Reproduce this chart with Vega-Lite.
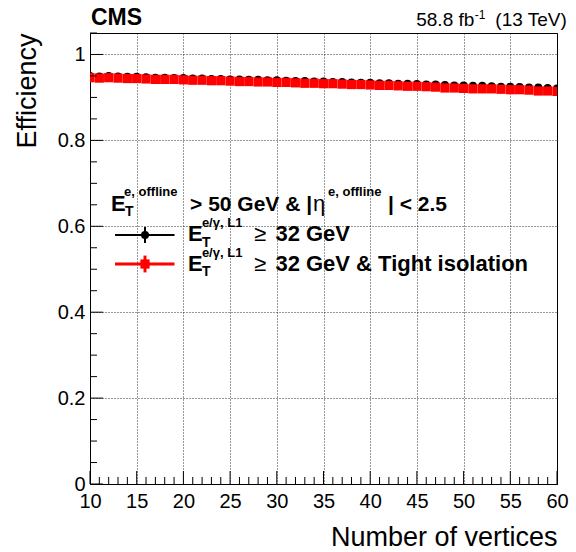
{
  "$schema": "https://vega.github.io/schema/vega-lite/v6.json",
  "width": 467,
  "height": 451,
  "autosize": "none",
  "padding": {"left": 90, "top": 33, "right": 19, "bottom": 68},
  "background": "white",
  "config": {
    "view": {"stroke": "black", "strokeWidth": 1},
    "font": "Liberation Sans",
    "axis": {
      "labelFont": "Liberation Sans",
      "labelFontSize": 20,
      "labelColor": "black",
      "titleFont": "Liberation Sans",
      "titleFontSize": 27,
      "titleFontWeight": "normal",
      "titleColor": "black",
      "domainColor": "black",
      "domainWidth": 1,
      "ticks": false,
      "gridColor": "black",
      "gridDash": [1, 2],
      "gridWidth": 1,
      "gridOpacity": 0.8
    }
  },
  "datasets": {
    "eff": [
      {"nv":10,"sel":"L1","eff":0.950},{"nv":11,"sel":"L1","eff":0.949},{"nv":12,"sel":"L1","eff":0.950},{"nv":13,"sel":"L1","eff":0.949},{"nv":14,"sel":"L1","eff":0.948},
      {"nv":15,"sel":"L1","eff":0.948},{"nv":16,"sel":"L1","eff":0.947},{"nv":17,"sel":"L1","eff":0.946},{"nv":18,"sel":"L1","eff":0.946},{"nv":19,"sel":"L1","eff":0.945},
      {"nv":20,"sel":"L1","eff":0.945},{"nv":21,"sel":"L1","eff":0.944},{"nv":22,"sel":"L1","eff":0.944},{"nv":23,"sel":"L1","eff":0.943},{"nv":24,"sel":"L1","eff":0.943},
      {"nv":25,"sel":"L1","eff":0.942},{"nv":26,"sel":"L1","eff":0.942},{"nv":27,"sel":"L1","eff":0.941},{"nv":28,"sel":"L1","eff":0.941},{"nv":29,"sel":"L1","eff":0.940},
      {"nv":30,"sel":"L1","eff":0.940},{"nv":31,"sel":"L1","eff":0.939},{"nv":32,"sel":"L1","eff":0.938},{"nv":33,"sel":"L1","eff":0.938},{"nv":34,"sel":"L1","eff":0.937},
      {"nv":35,"sel":"L1","eff":0.937},{"nv":36,"sel":"L1","eff":0.936},{"nv":37,"sel":"L1","eff":0.936},{"nv":38,"sel":"L1","eff":0.935},{"nv":39,"sel":"L1","eff":0.934},
      {"nv":40,"sel":"L1","eff":0.934},{"nv":41,"sel":"L1","eff":0.933},{"nv":42,"sel":"L1","eff":0.933},{"nv":43,"sel":"L1","eff":0.932},{"nv":44,"sel":"L1","eff":0.932},
      {"nv":45,"sel":"L1","eff":0.931},{"nv":46,"sel":"L1","eff":0.930},{"nv":47,"sel":"L1","eff":0.930},{"nv":48,"sel":"L1","eff":0.929},{"nv":49,"sel":"L1","eff":0.928},
      {"nv":50,"sel":"L1","eff":0.928},{"nv":51,"sel":"L1","eff":0.927},{"nv":52,"sel":"L1","eff":0.927},{"nv":53,"sel":"L1","eff":0.926},{"nv":54,"sel":"L1","eff":0.925},
      {"nv":55,"sel":"L1","eff":0.925},{"nv":56,"sel":"L1","eff":0.924},{"nv":57,"sel":"L1","eff":0.923},{"nv":58,"sel":"L1","eff":0.923},{"nv":59,"sel":"L1","eff":0.922},
      {"nv":60,"sel":"L1","eff":0.921},
      {"nv":10,"sel":"L1 iso","eff":0.946},{"nv":11,"sel":"L1 iso","eff":0.945},{"nv":12,"sel":"L1 iso","eff":0.946},{"nv":13,"sel":"L1 iso","eff":0.945},{"nv":14,"sel":"L1 iso","eff":0.944},
      {"nv":15,"sel":"L1 iso","eff":0.944},{"nv":16,"sel":"L1 iso","eff":0.943},{"nv":17,"sel":"L1 iso","eff":0.942},{"nv":18,"sel":"L1 iso","eff":0.942},{"nv":19,"sel":"L1 iso","eff":0.942},
      {"nv":20,"sel":"L1 iso","eff":0.941},{"nv":21,"sel":"L1 iso","eff":0.940},{"nv":22,"sel":"L1 iso","eff":0.940},{"nv":23,"sel":"L1 iso","eff":0.939},{"nv":24,"sel":"L1 iso","eff":0.939},
      {"nv":25,"sel":"L1 iso","eff":0.938},{"nv":26,"sel":"L1 iso","eff":0.937},{"nv":27,"sel":"L1 iso","eff":0.937},{"nv":28,"sel":"L1 iso","eff":0.936},{"nv":29,"sel":"L1 iso","eff":0.936},
      {"nv":30,"sel":"L1 iso","eff":0.935},{"nv":31,"sel":"L1 iso","eff":0.935},{"nv":32,"sel":"L1 iso","eff":0.934},{"nv":33,"sel":"L1 iso","eff":0.933},{"nv":34,"sel":"L1 iso","eff":0.933},
      {"nv":35,"sel":"L1 iso","eff":0.932},{"nv":36,"sel":"L1 iso","eff":0.932},{"nv":37,"sel":"L1 iso","eff":0.931},{"nv":38,"sel":"L1 iso","eff":0.930},{"nv":39,"sel":"L1 iso","eff":0.930},
      {"nv":40,"sel":"L1 iso","eff":0.929},{"nv":41,"sel":"L1 iso","eff":0.928},{"nv":42,"sel":"L1 iso","eff":0.928},{"nv":43,"sel":"L1 iso","eff":0.927},{"nv":44,"sel":"L1 iso","eff":0.926},
      {"nv":45,"sel":"L1 iso","eff":0.926},{"nv":46,"sel":"L1 iso","eff":0.925},{"nv":47,"sel":"L1 iso","eff":0.924},{"nv":48,"sel":"L1 iso","eff":0.922},{"nv":49,"sel":"L1 iso","eff":0.922},
      {"nv":50,"sel":"L1 iso","eff":0.921},{"nv":51,"sel":"L1 iso","eff":0.920},{"nv":52,"sel":"L1 iso","eff":0.920},{"nv":53,"sel":"L1 iso","eff":0.920},{"nv":54,"sel":"L1 iso","eff":0.919},
      {"nv":55,"sel":"L1 iso","eff":0.918},{"nv":56,"sel":"L1 iso","eff":0.918},{"nv":57,"sel":"L1 iso","eff":0.917},{"nv":58,"sel":"L1 iso","eff":0.915},{"nv":59,"sel":"L1 iso","eff":0.915},
      {"nv":60,"sel":"L1 iso","eff":0.914}
    ],
    "yticks": [
      {"v":0},{"v":0.05},{"v":0.1},{"v":0.15},{"v":0.2},{"v":0.25},{"v":0.3},{"v":0.35},{"v":0.4},{"v":0.45},{"v":0.5},
      {"v":0.55},{"v":0.6},{"v":0.65},{"v":0.7},{"v":0.75},{"v":0.8},{"v":0.85},{"v":0.9},{"v":0.95},{"v":1},{"v":1.05}
    ],
    "one": [{}]
  },
  "layer": [
    {
      "data": {"name": "eff"},
      "mark": {"type": "point", "filled": true, "opacity": 1, "clip": true},
      "encoding": {
        "x": {
          "field": "nv", "type": "quantitative",
          "scale": {"domain": [10, 60], "nice": false, "zero": false},
          "axis": {
            "title": "Number of vertices",
            "values": [10,15,20,25,30,35,40,45,50,55,60],
            "grid": true,
            "labelPadding": 7,
            "labelFlush": false,
            "labelOverlap": false,
            "titleAnchor": null,
            "titleAlign": "right",
            "titleBaseline": "alphabetic",
            "titleX": 467,
            "titleY": 61
          }
        },
        "y": {
          "field": "eff", "type": "quantitative",
          "scale": {"domain": [0, 1.05], "nice": false, "zero": false},
          "axis": {
            "title": "Efficiency",
            "values": [0,0.2,0.4,0.6,0.8,1],
            "format": "~g",
            "grid": true,
            "labelPadding": 5,
            "labelFlush": false,
            "labelOverlap": false,
            "titleAnchor": null,
            "titleAngle": -90,
            "titleAlign": "right",
            "titleBaseline": "alphabetic",
            "titleX": -55,
            "titleY": 0
          }
        },
        "color": {"field": "sel", "type": "nominal", "scale": {"domain": ["L1", "L1 iso"], "range": ["black", "#ff0000"]}, "legend": null},
        "shape": {"field": "sel", "type": "nominal", "scale": {"domain": ["L1", "L1 iso"], "range": ["circle", "square"]}, "legend": null},
        "size": {"field": "sel", "type": "nominal", "scale": {"domain": ["L1", "L1 iso"], "range": [64, 85]}, "legend": null}
      }
    },
    {
      "data": {"name": "eff"},
      "transform": [{"filter": "datum.sel == 'L1' && datum.nv % 5 != 0"}],
      "mark": {"type": "rule", "color": "black", "strokeWidth": 1},
      "encoding": {"x": {"field": "nv", "type": "quantitative"}, "y": {"datum": 0}, "y2": {"datum": 0.0163}}
    },
    {
      "data": {"name": "eff"},
      "transform": [{"filter": "datum.sel == 'L1' && datum.nv % 5 == 0"}],
      "mark": {"type": "rule", "color": "black", "strokeWidth": 1},
      "encoding": {"x": {"field": "nv", "type": "quantitative"}, "y": {"datum": 0}, "y2": {"datum": 0.0303}}
    },
    {
      "data": {"name": "yticks"},
      "transform": [{"filter": "round(datum.v * 100) % 20 != 0"}],
      "mark": {"type": "rule", "color": "black", "strokeWidth": 1},
      "encoding": {"y": {"field": "v", "type": "quantitative"}, "x": {"datum": 10}, "x2": {"datum": 10.75}}
    },
    {
      "data": {"name": "yticks"},
      "transform": [{"filter": "round(datum.v * 100) % 20 == 0"}],
      "mark": {"type": "rule", "color": "black", "strokeWidth": 1},
      "encoding": {"y": {"field": "v", "type": "quantitative"}, "x": {"datum": 10}, "x2": {"datum": 11.4}}
    },
    {
      "data": {"name": "one"},
      "mark": {"type": "rule", "color": "black", "strokeWidth": 2},
      "encoding": {"x": {"datum": 12.68}, "x2": {"datum": 19.05}, "y": {"datum": 0.5797}}
    },
    {
      "data": {"name": "one"},
      "mark": {"type": "rule", "color": "black", "strokeWidth": 2},
      "encoding": {"x": {"datum": 15.89}, "y": {"datum": 0.5611}, "y2": {"datum": 0.5983}}
    },
    {
      "data": {"name": "one"},
      "mark": {"type": "point", "filled": true, "opacity": 1, "shape": "circle", "size": 64, "color": "black"},
      "encoding": {"x": {"datum": 15.89}, "y": {"datum": 0.5797}}
    },
    {
      "data": {"name": "one"},
      "mark": {"type": "rule", "color": "#ff0000", "strokeWidth": 3},
      "encoding": {"x": {"datum": 12.68}, "x2": {"datum": 19.05}, "y": {"datum": 0.5122}}
    },
    {
      "data": {"name": "one"},
      "mark": {"type": "rule", "color": "#ff0000", "strokeWidth": 3},
      "encoding": {"x": {"datum": 15.89}, "y": {"datum": 0.4926}, "y2": {"datum": 0.5318}}
    },
    {
      "data": {"name": "one"},
      "mark": {"type": "point", "filled": true, "opacity": 1, "shape": "square", "size": 85, "color": "#ff0000"},
      "encoding": {"x": {"datum": 15.89}, "y": {"datum": 0.5122}}
    },
    {
      "data": {"name": "one"},
      "mark": {"type": "text", "text": "E", "align": "left", "baseline": "alphabetic", "fontSize": 22, "fontWeight": "bold", "color": "black"},
      "encoding": {"x": {"datum": 12.25}, "y": {"datum": 0.6363}}
    },
    {
      "data": {"name": "one"},
      "mark": {"type": "text", "text": "T", "align": "left", "baseline": "alphabetic", "fontSize": 14, "fontWeight": "bold", "color": "black"},
      "encoding": {"x": {"datum": 13.75}, "y": {"datum": 0.6239}}
    },
    {
      "data": {"name": "one"},
      "mark": {"type": "text", "text": "e, offline", "align": "left", "baseline": "alphabetic", "fontSize": 13, "fontWeight": "bold", "color": "black"},
      "encoding": {"x": {"datum": 13.65}, "y": {"datum": 0.6705}}
    },
    {
      "data": {"name": "one"},
      "mark": {"type": "text", "text": "> 50 GeV & |", "align": "left", "baseline": "alphabetic", "fontSize": 21, "fontWeight": "bold", "color": "black"},
      "encoding": {"x": {"datum": 20.71}, "y": {"datum": 0.6363}}
    },
    {
      "data": {"name": "one"},
      "mark": {"type": "text", "text": "η", "align": "left", "baseline": "alphabetic", "fontSize": 22, "color": "black"},
      "encoding": {"x": {"datum": 33.88}, "y": {"datum": 0.6363}}
    },
    {
      "data": {"name": "one"},
      "mark": {"type": "text", "text": "e, offline", "align": "left", "baseline": "alphabetic", "fontSize": 13, "fontWeight": "bold", "color": "black"},
      "encoding": {"x": {"datum": 35.48}, "y": {"datum": 0.6705}}
    },
    {
      "data": {"name": "one"},
      "mark": {"type": "text", "text": "| < 2.5", "align": "left", "baseline": "alphabetic", "fontSize": 21, "fontWeight": "bold", "color": "black"},
      "encoding": {"x": {"datum": 41.91}, "y": {"datum": 0.6363}}
    },
    {
      "data": {"name": "one"},
      "mark": {"type": "text", "text": "E", "align": "left", "baseline": "alphabetic", "fontSize": 22, "fontWeight": "bold", "color": "black"},
      "encoding": {"x": {"datum": 20.49}, "y": {"datum": 0.5664}}
    },
    {
      "data": {"name": "one"},
      "mark": {"type": "text", "text": "T", "align": "left", "baseline": "alphabetic", "fontSize": 14, "fontWeight": "bold", "color": "black"},
      "encoding": {"x": {"datum": 21.98}, "y": {"datum": 0.5529}}
    },
    {
      "data": {"name": "one"},
      "mark": {"type": "text", "text": "e/γ, L1", "align": "left", "baseline": "alphabetic", "fontSize": 13, "fontWeight": "bold", "color": "black"},
      "encoding": {"x": {"datum": 21.98}, "y": {"datum": 0.599}}
    },
    {
      "data": {"name": "one"},
      "mark": {"type": "text", "text": "≥", "align": "left", "baseline": "alphabetic", "fontSize": 22, "color": "black"},
      "encoding": {"x": {"datum": 27.55}, "y": {"datum": 0.5664}}
    },
    {
      "data": {"name": "one"},
      "mark": {"type": "text", "text": "32 GeV", "align": "left", "baseline": "alphabetic", "fontSize": 22, "fontWeight": "bold", "color": "black"},
      "encoding": {"x": {"datum": 29.85}, "y": {"datum": 0.5664}}
    },
    {
      "data": {"name": "one"},
      "mark": {"type": "text", "text": "E", "align": "left", "baseline": "alphabetic", "fontSize": 22, "fontWeight": "bold", "color": "black"},
      "encoding": {"x": {"datum": 20.49}, "y": {"datum": 0.4966}}
    },
    {
      "data": {"name": "one"},
      "mark": {"type": "text", "text": "T", "align": "left", "baseline": "alphabetic", "fontSize": 14, "fontWeight": "bold", "color": "black"},
      "encoding": {"x": {"datum": 21.98}, "y": {"datum": 0.4831}}
    },
    {
      "data": {"name": "one"},
      "mark": {"type": "text", "text": "e/γ, L1", "align": "left", "baseline": "alphabetic", "fontSize": 13, "fontWeight": "bold", "color": "black"},
      "encoding": {"x": {"datum": 21.98}, "y": {"datum": 0.5292}}
    },
    {
      "data": {"name": "one"},
      "mark": {"type": "text", "text": "≥", "align": "left", "baseline": "alphabetic", "fontSize": 22, "color": "black"},
      "encoding": {"x": {"datum": 27.55}, "y": {"datum": 0.4966}}
    },
    {
      "data": {"name": "one"},
      "mark": {"type": "text", "text": "32 GeV & Tight isolation", "align": "left", "baseline": "alphabetic", "fontSize": 22, "fontWeight": "bold", "color": "black"},
      "encoding": {"x": {"datum": 29.85}, "y": {"datum": 0.4966}}
    },
    {
      "data": {"name": "one"},
      "mark": {"type": "text", "text": "CMS", "align": "left", "baseline": "alphabetic", "fontSize": 23, "fontWeight": "bold", "color": "black"},
      "encoding": {"x": {"datum": 10.1}, "y": {"datum": 1.0686}}
    },
    {
      "data": {"name": "one"},
      "mark": {"type": "text", "text": "58.8 fb", "align": "right", "baseline": "alphabetic", "fontSize": 19, "color": "black"},
      "encoding": {"x": {"datum": 51.15}, "y": {"datum": 1.0663}}
    },
    {
      "data": {"name": "one"},
      "mark": {"type": "text", "text": "-1", "align": "left", "baseline": "alphabetic", "fontSize": 12, "color": "black"},
      "encoding": {"x": {"datum": 51.2}, "y": {"datum": 1.0826}}
    },
    {
      "data": {"name": "one"},
      "mark": {"type": "text", "text": "(13 TeV)", "align": "right", "baseline": "alphabetic", "fontSize": 19, "color": "black"},
      "encoding": {"x": {"datum": 61.05}, "y": {"datum": 1.0663}}
    }
  ]
}
